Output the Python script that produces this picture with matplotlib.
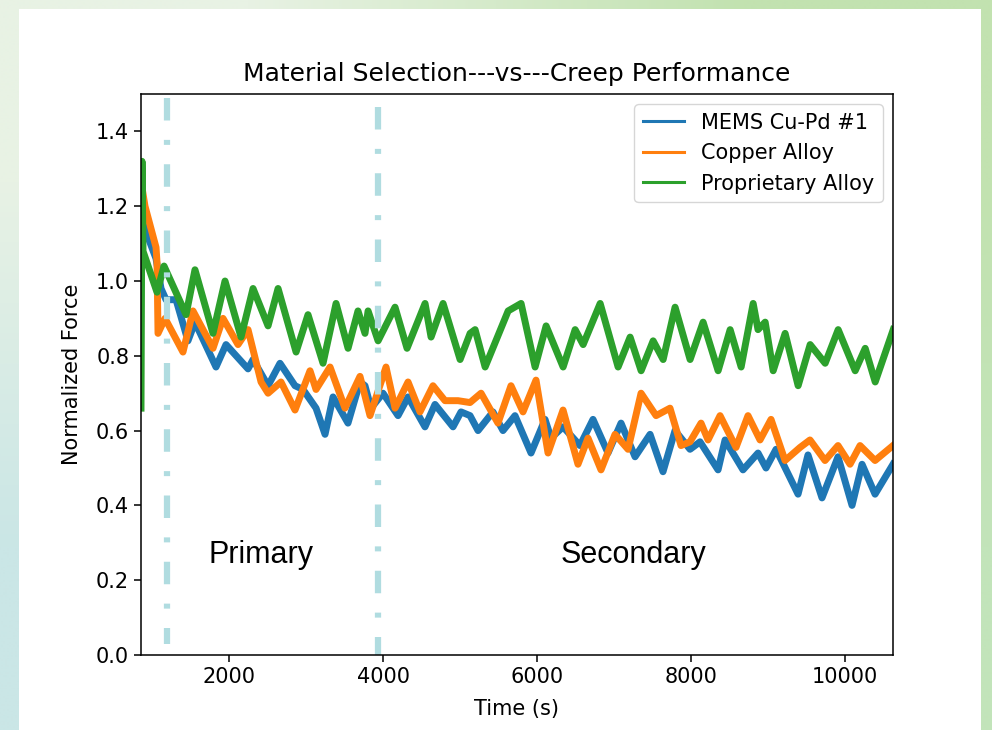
import numpy as np
from matplotlib import pyplot as plt
from matplotlib.patches import Rectangle

# data (time in s, normalized force)
t_mems = [870, 1052, 1117, 1182, 1312, 1467, 1558, 1831, 1961, 2247, 2312, 2507, 2662, 2857, 2961,
          3130, 3247, 3351, 3545, 3701, 3766, 3844, 4000, 4195, 4325, 4545, 4675, 4909, 5013, 5130,
          5234, 5428, 5558, 5714, 5922, 6104, 6182, 6338, 6558, 6727, 6922, 7091, 7273, 7468, 7636,
          7792, 7987, 8117, 8351, 8442, 8675, 8870, 8974, 9104, 9390, 9519, 9701, 9909, 10091, 10221,
          10390, 10623]
f_mems = [1.16, 1.06, 0.98, 0.95, 0.95, 0.84, 0.89, 0.77, 0.83, 0.765, 0.79, 0.72, 0.78, 0.72, 0.71,
          0.66, 0.59, 0.69, 0.62, 0.73, 0.72, 0.66, 0.70, 0.64, 0.69, 0.61, 0.67, 0.61, 0.65, 0.64,
          0.60, 0.65, 0.60, 0.64, 0.54, 0.63, 0.58, 0.61, 0.56, 0.63, 0.54, 0.62, 0.53, 0.59, 0.49,
          0.60, 0.55, 0.57, 0.495, 0.575, 0.495, 0.54, 0.50, 0.55, 0.43, 0.535, 0.42, 0.53, 0.40, 0.51,
          0.43, 0.51]

t_copper = [870, 909, 1052, 1065, 1078, 1169, 1402, 1532, 1792, 1922, 2117, 2247, 2416, 2507, 2675,
            2857, 3052, 3130, 3312, 3506, 3701, 3831, 4039, 4156, 4325, 4480, 4649, 4805, 4974, 5130,
            5273, 5493, 5662, 5818, 5987, 6143, 6338, 6532, 6662, 6831, 7013, 7182, 7351, 7546, 7727,
            7870, 7987, 8130, 8221, 8377, 8584, 8740, 8896, 9039, 9221, 9416, 9545, 9740, 9909, 10065,
            10195, 10390, 10623]
f_copper = [1.25, 1.20, 1.09, 1.05, 0.86, 0.90, 0.81, 0.92, 0.82, 0.90, 0.83, 0.87, 0.73, 0.70, 0.73,
            0.655, 0.76, 0.71, 0.77, 0.66, 0.745, 0.64, 0.77, 0.66, 0.73, 0.65, 0.72, 0.68, 0.68, 0.675,
            0.70, 0.62, 0.72, 0.65, 0.735, 0.54, 0.655, 0.51, 0.58, 0.495, 0.59, 0.55, 0.70, 0.64, 0.66,
            0.56, 0.57, 0.62, 0.575, 0.64, 0.555, 0.64, 0.575, 0.63, 0.52, 0.555, 0.575, 0.52, 0.56, 0.51,
            0.56, 0.52, 0.56]

t_prop = [857, 870, 883, 1065, 1156, 1442, 1558, 1792, 1948, 2156, 2312, 2507, 2637, 2871, 3026,
          3221, 3390, 3546, 3675, 3766, 3806, 3936, 4156, 4312, 4546, 4624, 4780, 5001, 5131, 5196,
          5326, 5625, 5793, 5975, 6118, 6339, 6495, 6599, 6820, 7053, 7209, 7352, 7508, 7638, 7793,
          7988, 8157, 8352, 8508, 8651, 8807, 8870, 8963, 9067, 9222, 9391, 9547, 9742, 9911, 10132,
          10262, 10392, 10626]
f_prop = [0.66, 1.32, 1.08, 0.97, 1.04, 0.91, 1.03, 0.86, 1.00, 0.85, 0.98, 0.88, 0.98, 0.81, 0.91,
          0.78, 0.94, 0.82, 0.92, 0.86, 0.92, 0.84, 0.93, 0.82, 0.94, 0.85, 0.94, 0.79, 0.86, 0.87,
          0.77, 0.92, 0.94, 0.77, 0.88, 0.77, 0.87, 0.83, 0.94, 0.77, 0.85, 0.76, 0.84, 0.79, 0.93,
          0.79, 0.89, 0.76, 0.87, 0.77, 0.94, 0.87, 0.89, 0.76, 0.86, 0.72, 0.83, 0.78, 0.87, 0.76,
          0.82, 0.73, 0.87]

labels = ['MEMS Cu-Pd #1', 'Copper Alloy', 'Proprietary Alloy']
stage_t = [1195, 3935]
stage_y = [(1.49, 0.03), (1.465, 0.0)]

fig = plt.figure(figsize=(9.92, 7.30), dpi=100)

# slide background gradient + white panel
bg = fig.add_axes([0, 0, 1, 1], zorder=-10)
corners = np.array([[[232, 242, 228], [194, 226, 176]],
                    [[202, 230, 230], [194, 228, 186]]]) / 255.0
bg.imshow(corners, extent=[0, 1, 0, 1], aspect='auto', interpolation='bilinear')
bg.set_xlim(0, 1)
bg.set_ylim(0, 1)
bg.axis('off')
fig.add_artist(Rectangle((19/992, 0), (981-19)/992, (730-9)/730, transform=fig.transFigure,
                         facecolor='white', edgecolor='none', zorder=-5))

ax = fig.add_axes([141/992, 75/730, 752/992, 561/730])
ax.plot(t_mems, f_mems, color='#1f77b4', lw=5, label=labels[0], solid_joinstyle='round')
ax.plot(t_copper, f_copper, color='#ff7f0e', lw=5, label=labels[1], solid_joinstyle='round')
ax.plot(t_prop, f_prop, color='#2ca02c', lw=5, label=labels[2], solid_joinstyle='round')

for xt, (y0, y1) in zip(stage_t, stage_y):
  ax.plot([xt, xt], [y0, y1], color='#b0dce0', lw=4.5, linestyle=(0, (3.6, 3.1, 0.8, 3.1)))

ax.text(2416, 0.246, 'Primary', fontsize=22, family='Liberation Sans', ha='center', va='baseline')
ax.text(7248, 0.246, 'Secondary', fontsize=22, family='Liberation Sans', ha='center', va='baseline')

ax.set_xlim(857, 10623)
ax.set_ylim(0, 1.5)
ax.set_yticks(np.arange(0, 1.41, 0.2))
ax.tick_params(labelsize=15, length=5, width=1.1)
for s in ax.spines.values():
  s.set_linewidth(1.1)
ax.set_xlabel('Time (s)', fontsize=15, labelpad=9)
ax.set_ylabel('Normalized Force', fontsize=15, labelpad=10)
ax.set_title('Material Selection---vs---Creep Performance', fontsize=18, pad=9)

leg = ax.legend(loc='upper right', fontsize=15)
for ln in leg.get_lines():
  ln.set_linewidth(2.2)

plt.savefig('out.png', dpi=100)
